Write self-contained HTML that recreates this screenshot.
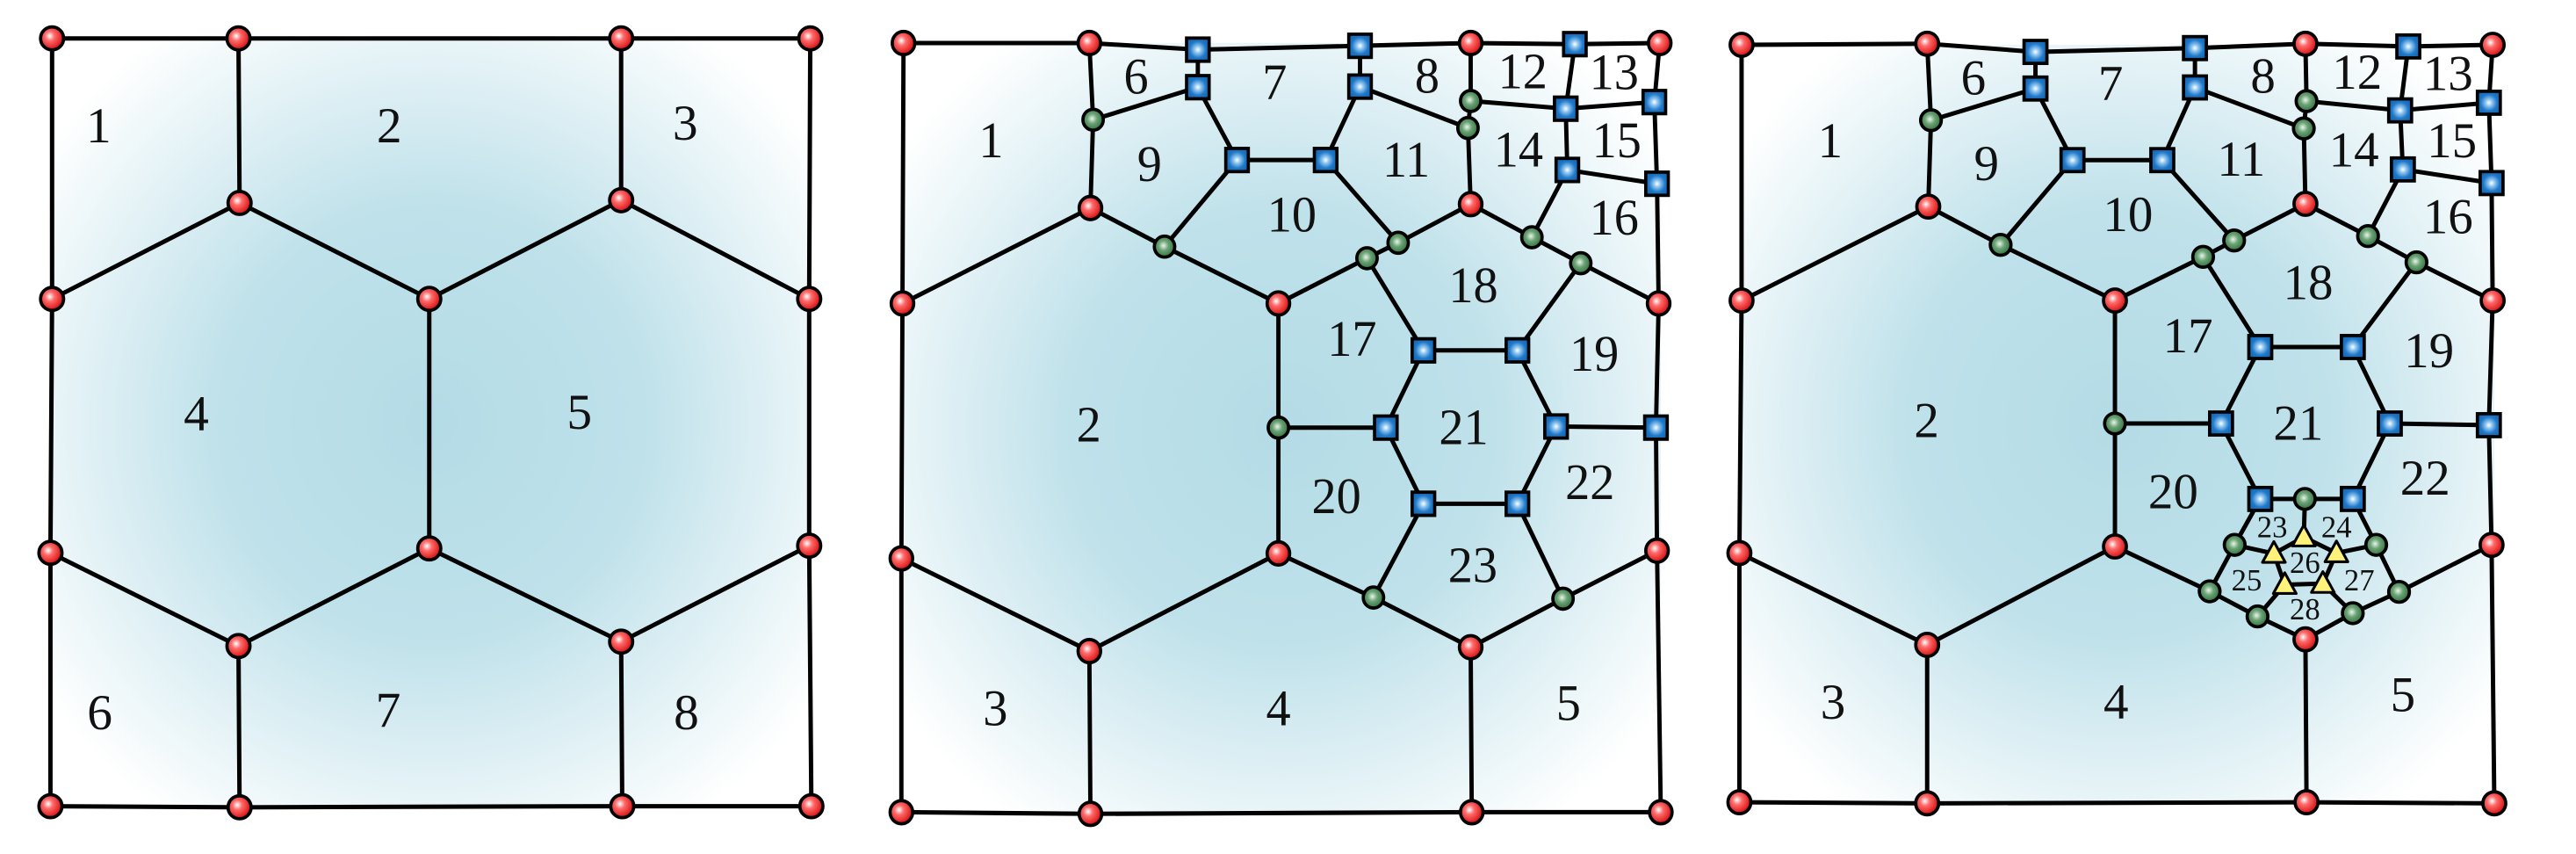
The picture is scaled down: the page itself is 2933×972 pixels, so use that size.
<!DOCTYPE html>
<html><head><meta charset="utf-8"><style>
html,body{margin:0;padding:0;background:#fff;}
svg{display:block;}
text{font-family:"Liberation Serif",serif;fill:#111;}
</style></head><body>
<svg id="fig" width="2933" height="972" viewBox="0 0 2933 972" xmlns="http://www.w3.org/2000/svg">
<defs>
<radialGradient id="bg" cx="0.5" cy="0.5" r="0.62">
<stop offset="0" stop-color="#b4dce6"/><stop offset="0.45" stop-color="#bfe1ea"/><stop offset="1" stop-color="#ffffff"/>
</radialGradient>
<radialGradient id="redg" cx="0.4" cy="0.4" r="0.6">
<stop offset="0" stop-color="#ffffff"/><stop offset="0.35" stop-color="#ff6a6a"/><stop offset="1" stop-color="#d81010"/>
</radialGradient>
<radialGradient id="greeng" cx="0.45" cy="0.45" r="0.6">
<stop offset="0" stop-color="#e8f5e8"/><stop offset="0.4" stop-color="#6aa274"/><stop offset="1" stop-color="#2c6a3a"/>
</radialGradient>
<radialGradient id="blueg" cx="0.5" cy="0.5" r="0.6">
<stop offset="0" stop-color="#ffffff"/><stop offset="0.25" stop-color="#8cc4f0"/><stop offset="0.6" stop-color="#1f78c8"/><stop offset="1" stop-color="#1464b0"/>
</radialGradient>
</defs>
</svg>
<script>
const NS='http://www.w3.org/2000/svg';
const svg=document.getElementById('fig');
const panelScalesX=[0.6242,0.6115,0.6197];
const panelScalesY=[0.6242,0.628,0.6220];
const panelOffsets=[0,1000,1960];
const p1Nodes={A:[95,70,'r'],B:[435,70,'r'],C:[1133,70,'r'],D:[1478,70,'r'],E:[437,370,'r'],F:[95,545,'r'],G:[783,545,'r'],H:[1133,365,'r'],I:[1476,545,'r'],J:[92,1008,'r'],K:[783,1000,'r'],L:[435,1178,'r'],M:[1133,1170,'r'],N:[1476,995,'r'],O:[92,1470,'r'],P:[437,1472,'r'],Q:[1135,1470,'r'],R:[1480,1470,'r']};
const p1Edges='A-B B-C C-D D-I I-N N-R R-Q Q-P P-O O-J J-F F-A B-E C-H E-F E-G G-H H-I G-K J-L L-K K-M M-N L-P M-Q';
const p1Labels=[['1',180,230],['2',710,230],['3',1250,225],['4',358,755],['5',1057,752],['6',182,1300],['7',708,1295],['8',1252,1300]];
const p2Nodes={A:[47,78,'r'],B:[393,78,'r'],C:[1103,78,'r'],D:[1455,78,'r'],E:[395,377,'r'],F:[45,550,'r'],G:[745,550,'r'],H:[1103,370,'r'],I:[1453,550,'r'],J:[43,1012,'r'],K:[745,1003,'r'],L:[393,1180,'r'],M:[1103,1173,'r'],N:[1450,998,'r'],O:[43,1472,'r'],P:[395,1475,'r'],Q:[1105,1472,'r'],R:[1457,1472,'r'],
s1:[595,90,'b'],s2:[595,158,'b'],s3:[897,83,'b'],s4:[897,157,'b'],s5:[668,290,'b'],s6:[833,290,'b'],s7:[1297,80,'b'],s8:[1280,197,'b'],s9:[1445,185,'b'],s10:[1283,308,'b'],s11:[1450,333,'b'],s12:[1015,635,'b'],s13:[1190,635,'b'],s14:[945,775,'b'],s15:[1262,773,'b'],s16:[1448,775,'b'],s17:[1015,913,'b'],s18:[1190,913,'b'],
g1:[400,217,'g'],g2:[1103,183,'g'],g3:[1098,232,'g'],g4:[533,447,'g'],g5:[968,440,'g'],g6:[910,468,'g'],g7:[1217,430,'g'],g8:[1308,477,'g'],g9:[745,775,'g'],g10:[922,1083,'g'],g11:[1275,1085,'g']};
const baseEdges='A-B B-s1 s1-s3 s3-C C-s7 s7-D D-s9 s9-s11 s11-I I-s16 s16-N N-R R-Q Q-P P-O O-J J-F F-A B-g1 g1-E g1-s2 s1-s2 s2-s5 s5-s6 s6-s4 s3-s4 s4-g3 C-g2 g2-g3 g3-H g2-s8 s8-s9 s7-s8 s8-s10 s10-s11 s10-g7 E-F E-g4 g4-G g4-s5 s6-g5 g5-H g5-g6 g6-G H-g7 g7-g8 g8-I g6-s12 g8-s13 s12-s13 s12-s14 s13-s15 s14-g9 G-g9 g9-K s15-s16 s14-s17 s15-s18 K-g10 g11-N J-L L-K L-P M-Q';
const p2Edges=baseEdges+' s17-s18 s17-g10 s18-g11 g10-M M-g11';
const p2Labels=[['1',210,255],['6',480,140],['7',738,150],['8',1022,138],['12',1200,130],['13',1370,132],['9',505,298],['11',983,290],['14',1192,272],['15',1375,255],['10',770,390],['16',1370,395],['18',1108,518],['17',882,615],['19',1333,642],['2',392,770],['21',1090,775],['20',853,900],['22',1325,875],['23',1107,1025],['3',218,1285],['4',745,1285],['5',1285,1275]];
const p3Nodes={A:[37,82,'r'],B:[378,80,'r'],C:[1073,80,'r'],D:[1417,82,'r'],E:[380,378,'r'],F:[37,550,'r'],G:[723,550,'r'],H:[1073,373,'r'],I:[1417,550,'r'],J:[33,1012,'r'],K:[723,1000,'r'],L:[378,1180,'r'],M:[1073,1170,'r'],N:[1415,997,'r'],O:[33,1468,'r'],P:[378,1470,'r'],Q:[1075,1468,'r'],R:[1420,1470,'r'],
s1:[577,95,'b'],s2:[577,162,'b'],s3:[870,88,'b'],s4:[870,160,'b'],s5:[645,293,'b'],s6:[810,293,'b'],s7:[1262,85,'b'],s8:[1247,202,'b'],s9:[1410,188,'b'],s10:[1252,310,'b'],s11:[1415,335,'b'],s12:[990,635,'b'],s13:[1160,635,'b'],s14:[918,775,'b'],s15:[1228,775,'b'],s16:[1410,778,'b'],s17:[990,913,'b'],s18:[1160,913,'b'],
g1:[385,220,'g'],g2:[1075,185,'g'],g3:[1070,235,'g'],g4:[513,448,'g'],g5:[942,440,'g'],g6:[885,470,'g'],g7:[1188,432,'g'],g8:[1277,480,'g'],g9:[723,775,'g'],g10:[897,1082,'g'],g11:[1245,1083,'g'],
h1:[1072,913,'g'],h2:[943,997,'g'],h3:[1203,997,'g'],h4:[985,1128,'g'],h5:[1160,1122,'g'],
t1:[1070,983,'t'],t2:[1015,1013,'t'],t3:[1130,1012,'t'],t4:[1035,1070,'t'],t5:[1105,1068,'t']};
const p3Edges=baseEdges+' s17-h1 h1-s18 s17-h2 h2-g10 s18-h3 h3-g11 g10-h4 h4-M M-h5 h5-g11 h1-t1 h2-t2 h3-t3 t1-t2 t1-t3 t2-t4 t3-t5 t4-t5 t4-h4 t5-h5';
const p3Labels=[['1',200,258],['6',463,143],['7',715,153],['8',995,140],['12',1168,133],['13',1335,135],['9',487,300],['11',955,292],['14',1162,275],['15',1342,258],['10',747,393],['16',1335,397],['18',1078,518],['17',857,615],['19',1300,642],['2',377,770],['21',1060,775],['20',830,900],['22',1293,875],['3',205,1285],['4',725,1285],['5',1252,1272]];
const p3Small=[['23',1012,965],['24',1130,965],['25',965,1062],['26',1072,1030],['27',1172,1062],['28',1072,1115]];

function mk(tag,attrs,parent){const e=document.createElementNS(NS,tag);for(const k in attrs)e.setAttribute(k,attrs[k]);(parent||svg).appendChild(e);return e;}

function drawPanel(idx,nodes,edges,labels,small){
  const g=mk('g',{transform:`translate(${panelOffsets[idx]},0) scale(${panelScalesX[idx]},${panelScalesY[idx]})`});
  
  
  const A=nodes.A,R=nodes.R;
  const bg=mk('rect',{x:A[0],y:A[1],width:R[0]-A[0],height:R[1]-A[1],fill:'url(#bg)'},g);
  
  
  edges.split(' ').forEach(ed=>{const [a,b]=ed.split('-');const p=nodes[a],q=nodes[b];
    const l=mk('line',{x1:p[0],y1:p[1],x2:q[0],y2:q[1],stroke:'#000','stroke-width':8,'stroke-linecap':'round'},g);
    
    });
  labels.forEach(L=>{const t=mk('text',{x:L[1],y:L[2],'font-size':92,'text-anchor':'middle','dominant-baseline':'central'},g);t.textContent=L[0];
    
    });
  (small||[]).forEach(L=>{const t=mk('text',{x:L[1],y:L[2],'font-size':56,'text-anchor':'middle','dominant-baseline':'central'},g);t.textContent=L[0];
    
    });
  for(const k in nodes){const [x,y,t]=nodes[k];let e;
    if(t==='r'){e=mk('circle',{cx:x,cy:y,r:21,fill:'url(#redg)',stroke:'#000','stroke-width':6},g);}
    else if(t==='g'){e=mk('circle',{cx:x,cy:y,r:19,fill:'url(#greeng)',stroke:'#000','stroke-width':6},g);}
    else if(t==='b'){e=mk('rect',{x:x-21,y:y-21,width:42,height:42,fill:'url(#blueg)',stroke:'#000','stroke-width':6},g);}
    else {e=mk('polygon',{points:`${x},${y-22} ${x+21},${y+16} ${x-21},${y+16}`,fill:'#fff27a',stroke:'#000','stroke-width':5,'stroke-linejoin':'round'},g);}
    }
}
drawPanel(0,p1Nodes,p1Edges,p1Labels);
drawPanel(1,p2Nodes,p2Edges,p2Labels);
drawPanel(2,p3Nodes,p3Edges,p3Labels,p3Small);
</script>
</body></html>
